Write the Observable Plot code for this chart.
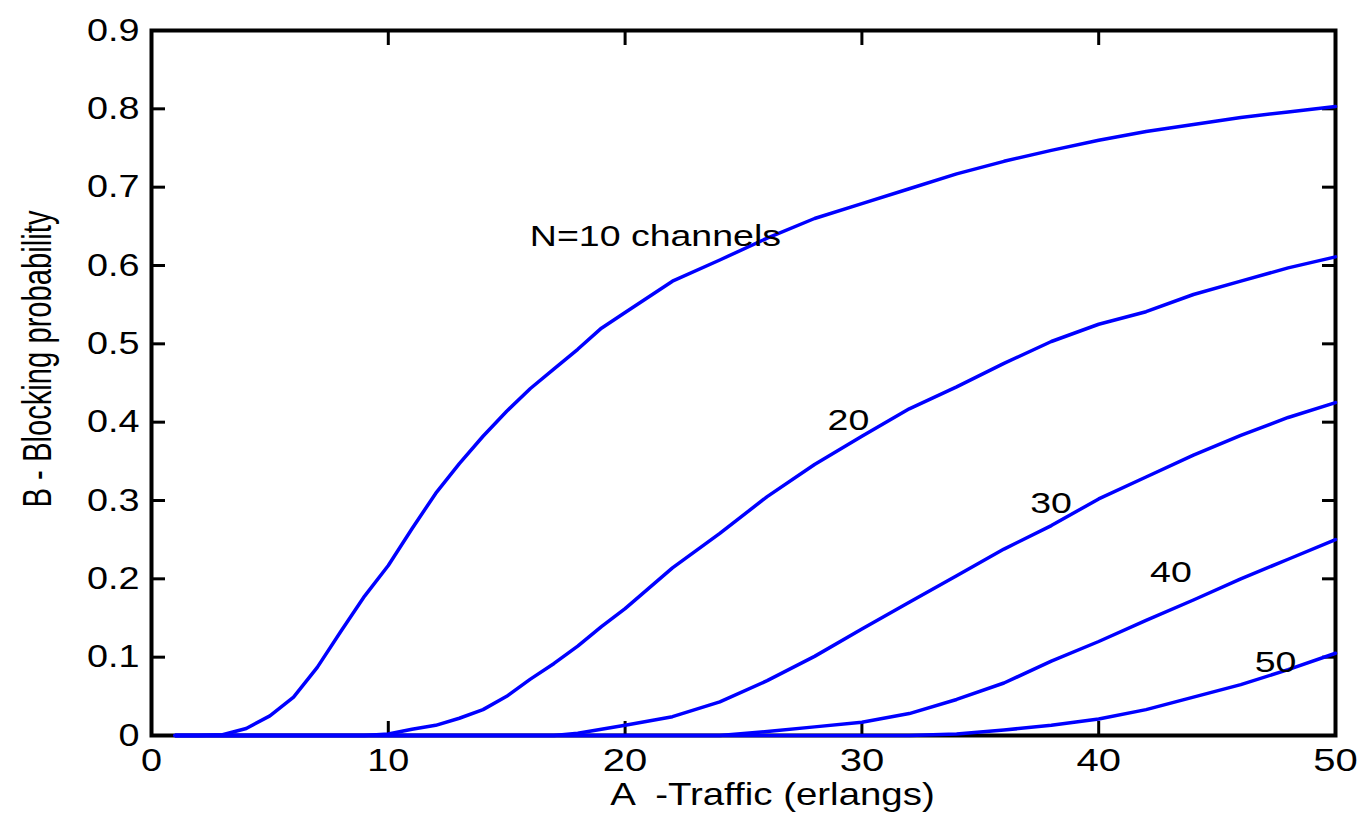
<!DOCTYPE html>
<html>
<head>
<meta charset="utf-8">
<script src="https://cdn.jsdelivr.net/npm/d3@7"></script>
<script src="https://cdn.jsdelivr.net/npm/@observablehq/plot@0.6"></script>
<style>
  html, body { margin: 0; padding: 0; background: #fff; }
</style>
</head>
<body>
<div id="chart"></div>
<script>
// Traffic A (erlangs) sample points
const traffic = [1,2,3,4,5,6,7,8,9,10,11,12,13,14,15,16,17,18,19,20,22,24,26,28,30,32,34,36,38,40,42,44,46,48,50];

// Blocking probability, one array per number of channels
const b10 = [0,0,0.001,0.009,0.025,0.049,0.087,0.133,0.178,0.217,0.264,0.309,0.347,0.382,0.414,0.443,0.468,0.493,0.520,0.540,
             0.580,0.607,0.635,0.660,0.679,0.698,0.717,0.733,0.747,0.760,0.771,0.780,0.789,0.796,0.803];
const b20 = [0,0,0,0,0,0,0,0,0,0.002,0.008,0.013,0.022,0.033,0.050,0.072,0.092,0.114,0.139,0.162,
             0.214,0.258,0.305,0.346,0.382,0.417,0.445,0.475,0.503,0.525,0.541,0.563,0.580,0.597,0.611];
const b30 = [0,0,0,0,0,0,0,0,0,0,0,0,0,0,0,0,0,0.003,0.008,0.013,
             0.024,0.043,0.070,0.101,0.136,0.170,0.204,0.238,0.268,0.302,0.330,0.358,0.383,0.406,0.425];
const b40 = [0,0,0,0,0,0,0,0,0,0,0,0,0,0,0,0,0,0,0,0,
             0,0,0.005,0.011,0.017,0.028,0.046,0.067,0.095,0.120,0.147,0.173,0.200,0.225,0.250];
const b50 = [0,0,0,0,0,0,0,0,0,0,0,0,0,0,0,0,0,0,0,0,
             0,0,0,0,0,0,0.002,0.007,0.013,0.021,0.033,0.049,0.065,0.084,0.105];

const channels = [10, 20, 30, 40, 50];
const seriesValues = [b10, b20, b30, b40, b50];

// Curve annotations (centre of each label)
const labelText = ["N=10 channels", "20", "30", "40", "50"];
const labelA = [21.28, 29.43, 37.99, 43.05, 47.47];
const labelB = [0.637, 0.402, 0.296, 0.208, 0.093];

// Axes
const xTicks = [0, 10, 20, 30, 40, 50];
const xTickLabels = ["0", "10", "20", "30", "40", "50"];
const yTicks = [0, 0.1, 0.2, 0.3, 0.4, 0.5, 0.6, 0.7, 0.8, 0.9];
const yTickLabels = ["0", "0.1", "0.2", "0.3", "0.4", "0.5", "0.6", "0.7", "0.8", "0.9"];
const xTitle = "A  -Traffic (erlangs)";
const yTitle = "B - Blocking probability";

// Build tables for the library
const rows = channels.flatMap((n, s) => traffic.map((a, i) => ({N: n, A: a, B: seriesValues[s][i]})));
const labels = labelText.map((t, i) => ({text: t, A: labelA[i], B: labelB[i]}));

const tickStyle = {strokeWidth: 3, tickSize: -14, tickFormat: () => "", label: null};

const plot = Plot.plot({
  width: 1363,
  height: 814,
  marginLeft: 151,
  marginRight: 28,
  marginTop: 30,
  marginBottom: 79,
  style: {fontFamily: "'Liberation Sans', Arial, Helvetica, sans-serif", fontSize: "32px", background: "#fff", color: "#000"},
  x: {domain: [0, 50], label: null},
  y: {domain: [0, 0.9], label: null},
  marks: [
    Plot.frame({stroke: "#000", strokeWidth: 4}),
    // inward ticks on all four sides
    Plot.axisX({anchor: "bottom", ticks: xTicks, ...tickStyle}),
    Plot.axisX({anchor: "top", ticks: xTicks, ...tickStyle}),
    Plot.axisY({anchor: "left", ticks: yTicks, ...tickStyle}),
    Plot.axisY({anchor: "right", ticks: yTicks, ...tickStyle}),
    // tick labels
    Plot.axisX({anchor: "bottom", ticks: xTicks, tickSize: 0, tickPadding: 13, fontSize: 32, label: null,
                tickFormat: d => xTickLabels[xTicks.indexOf(d)]}),
    Plot.axisY({anchor: "left", ticks: yTicks, tickSize: 0, tickPadding: 12, fontSize: 32, label: null,
                tickFormat: d => yTickLabels[yTicks.indexOf(d)]}),
    // curves
    Plot.line(rows, {x: "A", y: "B", z: "N", stroke: "#0000ff", strokeWidth: 3.5, curve: "linear"}),
    // annotations
    Plot.text(labels, {x: "A", y: "B", text: "text", textAnchor: "middle", fontSize: 30, fill: "#000",
                       lineAnchor: "middle"}),
    Plot.text([xTitle], {frameAnchor: "bottom", textAnchor: "middle", dx: 29, dy: 59, fontSize: 32, fill: "#000",
                         lineAnchor: "middle"}),
    Plot.text([yTitle], {frameAnchor: "left", textAnchor: "middle", dx: -113, dy: -24, rotate: -90, fontSize: 40,
                         fill: "#000", lineAnchor: "middle"})
  ]
});

document.getElementById("chart").appendChild(plot);

// Emulate the horizontally stretched raster lettering of the original
function factorFor(s) {
  if (s === yTitle) return 0.73;
  if (s === xTitle) return 1.2;
  if (labelText.includes(s)) return 1.25;
  if (xTickLabels.includes(s) || yTickLabels.includes(s)) return 1.18;
  return 1;
}
plot.querySelectorAll("text").forEach(el => {
  const s = el.textContent;
  if (!s) return;
  const k = factorFor(s);
  if (k === 1) return;
  const L = el.getComputedTextLength();
  if (L > 0) {
    el.setAttribute("textLength", (L * k).toFixed(1));
    el.setAttribute("lengthAdjust", "spacingAndGlyphs");
  }
});
</script>
</body>
</html>
